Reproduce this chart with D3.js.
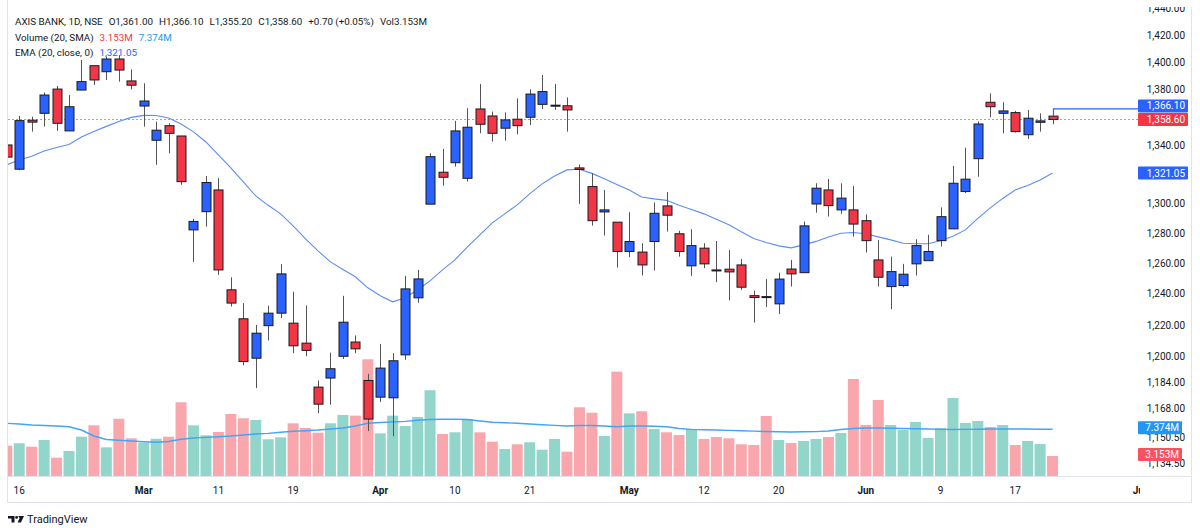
<!DOCTYPE html>
<html>
<head>
<meta charset="utf-8">
<script src="https://cdn.jsdelivr.net/npm/d3@7"></script>
<style>
  body { margin: 0; background: #fff; }
  svg { display: block; font-family: Roboto, "Noto Sans", sans-serif; }
</style>
</head>
<body>
<svg id="chart" width="1200" height="528"></svg>
<script>
// Bars run from index -1 (partly hidden at left edge) to 83 (last bar)
const firstIndex = -1;

const open = [1340.6, 1323.7, 1358.1, 1363.0, 1380.4, 1350.5, 1379.7, 1397.4, 1393.0, 1402.3,
  1386.3, 1368.2, 1343.9, 1354.2, 1346.9, 1282.3, 1294.6, 1309.4, 1242.7, 1224.0,
  1199.0, 1219.6, 1227.6, 1221.2, 1208.5, 1181.0, 1186.6, 1200.2, 1209.2, 1185.1,
  1174.8, 1174.4, 1201.1, 1237.5, 1299.7, 1321.6, 1328.2, 1317.4, 1366.1, 1361.1,
  1352.4, 1358.8, 1360.2, 1369.4, 1368.7, 1368.4, 1324.6, 1311.7, 1294.4, 1287.5,
  1267.9, 1267.5, 1274.5, 1298.5, 1279.7, 1258.4, 1270.1, 1255.7, 1256.2, 1259.0,
  1238.9, 1238.3, 1233.6, 1256.3, 1253.9, 1299.8, 1309.4, 1295.8, 1295.8, 1288.5,
  1262.3, 1244.8, 1245.5, 1259.7, 1261.8, 1275.1, 1283.0, 1308.3, 1331.0, 1370.9,
  1363.0, 1363.5, 1347.8, 1356.6, 1361.0];

const high = [1342.0, 1361.1, 1360.6, 1378.0, 1382.6, 1376.1, 1401.6, 1397.6, 1404.0, 1405.2,
  1394.7, 1384.6, 1357.1, 1355.9, 1347.0, 1289.7, 1319.0, 1317.5, 1250.9, 1234.1,
  1220.1, 1232.4, 1259.5, 1241.5, 1232.6, 1185.1, 1202.5, 1238.8, 1213.4, 1189.2,
  1208.0, 1202.2, 1251.8, 1255.7, 1334.8, 1337.8, 1357.6, 1366.6, 1384.1, 1364.2,
  1363.7, 1373.7, 1380.2, 1390.6, 1384.1, 1374.4, 1327.0, 1320.9, 1309.4, 1287.5,
  1294.2, 1273.4, 1300.8, 1307.9, 1281.7, 1282.8, 1273.4, 1274.9, 1269.0, 1262.9,
  1242.2, 1249.7, 1253.9, 1262.3, 1287.9, 1314.0, 1316.9, 1314.0, 1312.2, 1292.8,
  1275.6, 1264.5, 1259.7, 1276.1, 1279.0, 1297.5, 1326.0, 1338.7, 1357.1, 1377.3,
  1370.9, 1364.7, 1365.4, 1363.0, 1366.1];

const low = [1329.5, 1323.0, 1350.0, 1353.5, 1350.5, 1350.5, 1379.5, 1383.4, 1387.0, 1385.8,
  1380.2, 1353.5, 1326.7, 1334.8, 1312.9, 1261.0, 1284.5, 1252.5, 1231.9, 1194.5,
  1180.4, 1210.2, 1224.4, 1202.2, 1200.2, 1165.0, 1170.1, 1198.5, 1202.2, 1154.1,
  1171.9, 1151.0, 1198.0, 1234.3, 1299.7, 1312.4, 1325.5, 1315.1, 1348.8, 1342.9,
  1343.6, 1348.1, 1354.7, 1366.0, 1365.4, 1350.0, 1299.9, 1285.2, 1278.5, 1257.3,
  1264.1, 1252.0, 1255.3, 1281.2, 1264.5, 1251.8, 1256.9, 1247.7, 1235.8, 1242.7,
  1221.6, 1231.5, 1227.1, 1244.8, 1253.9, 1293.9, 1291.3, 1293.1, 1277.8, 1267.2,
  1244.8, 1230.2, 1244.4, 1252.0, 1261.8, 1271.2, 1283.0, 1307.2, 1318.5, 1360.2,
  1348.8, 1349.3, 1344.8, 1350.0, 1355.2];

const close = [1332.1, 1357.8, 1356.7, 1376.1, 1355.9, 1367.7, 1385.8, 1387.0, 1402.3, 1394.2,
  1383.2, 1371.8, 1351.0, 1348.8, 1315.1, 1288.0, 1314.5, 1255.7, 1234.1, 1196.9,
  1214.8, 1227.6, 1253.1, 1206.8, 1203.9, 1170.5, 1192.4, 1221.8, 1204.9, 1161.4,
  1192.8, 1197.4, 1243.3, 1249.8, 1332.4, 1318.1, 1350.5, 1353.1, 1355.2, 1348.8,
  1358.3, 1354.2, 1376.8, 1378.6, 1368.8, 1365.4, 1323.5, 1288.5, 1295.8, 1267.9,
  1274.5, 1259.0, 1293.5, 1292.2, 1267.9, 1271.8, 1259.7, 1255.6, 1254.4, 1244.4,
  1237.7, 1238.2, 1249.7, 1253.1, 1285.0, 1310.6, 1298.7, 1303.8, 1286.2, 1275.1,
  1250.9, 1254.6, 1252.9, 1271.8, 1267.9, 1291.2, 1314.0, 1316.8, 1355.4, 1367.7,
  1364.7, 1350.0, 1359.5, 1357.6, 1358.6];

// volume in millions
const volume = [4.77, 5.15, 4.61, 5.67, 2.88, 3.94, 6.19, 7.98, 4.52, 9.02,
  5.94, 5.24, 5.87, 6.19, 11.61, 7.98, 6.41, 6.93, 9.76, 9.09,
  8.82, 5.78, 6.09, 8.30, 7.56, 6.82, 8.30, 9.61, 9.50, 18.38,
  6.72, 9.50, 7.87, 9.29, 13.50, 6.61, 6.88, 8.98, 6.88, 5.40,
  4.25, 4.99, 5.31, 4.14, 5.83, 3.83, 10.82, 9.97, 6.30, 16.43,
  9.87, 10.19, 7.40, 6.88, 6.46, 7.40, 5.83, 6.14, 5.94, 4.99,
  4.88, 9.45, 5.67, 5.20, 5.51, 5.83, 6.14, 6.77, 15.28, 8.03,
  11.97, 8.03, 7.24, 8.50, 5.98, 7.56, 12.28, 8.35, 8.66, 7.72,
  8.03, 4.88, 5.51, 5.04, 3.153];

const volumeSma = [8.29, 8.19, 8.03, 7.95, 7.87, 7.76, 7.24, 6.30, 5.75, 5.62,
  5.51, 5.40, 5.31, 5.43, 5.78, 5.98, 6.09, 6.19, 6.30, 6.46,
  6.61, 6.72, 6.88, 7.04, 7.13, 7.24, 7.40, 7.56, 7.87, 8.30,
  8.43, 8.50, 8.61, 8.77, 8.90, 8.93, 8.93, 8.90, 8.66, 8.46,
  8.38, 8.30, 8.19, 8.08, 7.98, 7.87, 7.95, 7.95, 7.87, 7.76,
  7.87, 7.87, 7.83, 7.76, 7.48, 7.35, 7.29, 7.24, 7.18, 7.13,
  7.06, 7.01, 6.96, 6.93, 6.96, 6.99, 7.09, 7.32, 7.48, 7.56,
  7.56, 7.51, 7.48, 7.43, 7.40, 7.35, 7.32, 7.34, 7.37, 7.40,
  7.40, 7.40, 7.39, 7.37, 7.374];

const ema = [1326.7, 1330.1, 1332.7, 1336.4, 1338.8, 1340.9, 1346.2, 1350.1, 1353.7, 1357.2,
  1360.1, 1361.5, 1361.4, 1359.7, 1355.4, 1349.8, 1342.7, 1333.6, 1324.6, 1314.9,
  1305.3, 1298.9, 1293.1, 1285.0, 1276.3, 1268.3, 1261.0, 1256.0, 1251.2, 1244.0,
  1238.8, 1234.9, 1237.5, 1242.7, 1248.5, 1255.7, 1262.3, 1271.0, 1279.0, 1287.0,
  1293.1, 1299.2, 1306.7, 1313.6, 1319.0, 1323.2, 1323.7, 1320.8, 1317.1, 1313.2,
  1309.4, 1304.6, 1303.3, 1302.3, 1298.9, 1296.1, 1293.1, 1289.4, 1285.7, 1281.0,
  1276.6, 1273.9, 1271.6, 1270.3, 1272.3, 1274.6, 1277.6, 1280.1, 1280.6, 1279.7,
  1277.6, 1275.6, 1273.4, 1273.0, 1273.0, 1275.0, 1278.0, 1282.3, 1290.0, 1297.2,
  1303.6, 1309.4, 1312.5, 1316.3, 1321.05];

const priceTicks = [1440, 1420, 1400, 1380, 1340, 1300, 1280, 1260, 1240, 1220, 1200, 1184, 1168, 1150.5, 1134.5];

const timeTicks = [
  { i: 0, label: '16' }, { i: 10, label: 'Mar', month: true }, { i: 16, label: '11' },
  { i: 22, label: '19' }, { i: 29, label: 'Apr', month: true }, { i: 35, label: '10' },
  { i: 41, label: '21' }, { i: 49, label: 'May', month: true }, { i: 55, label: '12' },
  { i: 61, label: '20' }, { i: 68, label: 'Jun', month: true }, { i: 74, label: '9' },
  { i: 80, label: '17' }, { i: 90, label: 'Jul', month: true }
];

const lastHigh = 1366.1;

const bars = open.map((o, k) => ({
  i: k + firstIndex, o, h: high[k], l: low[k], c: close[k],
  v: volume[k], vs: volumeSma[k], ema: ema[k]
}));
const last = bars[bars.length - 1];

// layout
const paneL = 8, paneR = 1138, paneT = 7, paneB = 476.5;
const axisR = 1191;

const svg = d3.select('#chart');
const fmt = d3.format(',.2f');

const x = d3.scaleLinear().domain([0, 83]).range([19.2, 1052.55]);
const y = d3.scaleLog().domain([1127.0, 1441.0]).range([paneB, paneT]);
const yVol = d3.scaleLinear().domain([0, 20]).range([476, 476 - 20 * 6.35]);

const upColor = '#2962ff', downColor = '#f23645';

svg.append('defs').append('clipPath').attr('id', 'pane')
  .append('rect').attr('x', paneL).attr('y', paneT)
  .attr('width', paneR - paneL).attr('height', paneB - paneT);
svg.select('defs').append('clipPath').attr('id', 'timeclip')
  .append('rect').attr('x', paneL).attr('y', paneB)
  .attr('width', paneR + 2 - paneL).attr('height', 26);

const pane = svg.append('g').attr('clip-path', 'url(#pane)');

// volume bars
pane.append('g').selectAll('rect').data(bars).join('rect')
  .attr('x', d => x(d.i) - 5.5)
  .attr('width', 11)
  .attr('y', d => yVol(d.v))
  .attr('height', d => yVol(0) - yVol(d.v))
  .attr('fill', d => d.c >= d.o ? '#92d5ca' : '#f9a7ad');

// volume SMA
pane.append('path').datum(bars)
  .attr('fill', 'none').attr('stroke', '#42a5f5').attr('stroke-width', 1.4)
  .attr('d', d3.line().x(d => x(d.i)).y(d => yVol(d.vs)));

// close price dotted line
const closeLineY = Math.round(y(last.c)) + 0.5;
pane.append('path')
  .attr('d', `M${paneL},${closeLineY}H${paneR}`)
  .attr('fill', 'none')
  .style('stroke', '#f7808a')
  .style('stroke-width', 1)
  .style('stroke-dasharray', '2,2');

// EMA
pane.append('path').datum(bars)
  .attr('fill', 'none').attr('stroke', '#5b8cfa').attr('stroke-width', 1.1)
  .attr('d', d3.line().x(d => x(d.i)).y(d => y(d.ema)));

// candles
const candles = pane.append('g').selectAll('g').data(bars).join('g');
candles.append('line')
  .attr('x1', d => Math.round(x(d.i)) + 0.5).attr('x2', d => Math.round(x(d.i)) + 0.5)
  .attr('y1', d => y(d.h)).attr('y2', d => y(d.l))
  .attr('stroke', '#555').attr('stroke-width', 1);
candles.append('rect')
  .attr('x', d => Math.round(x(d.i)) - 4)
  .attr('width', 9)
  .attr('y', d => y(Math.max(d.o, d.c)))
  .attr('height', d => Math.max(1, y(Math.min(d.o, d.c)) - y(Math.max(d.o, d.c))))
  .attr('fill', d => d.c >= d.o ? upColor : downColor)
  .attr('stroke', '#1b1b1f').attr('stroke-width', 1);

// last high line
pane.append('path')
  .attr('fill', 'none').attr('stroke', '#2962ff').attr('stroke-width', 1.2)
  .attr('d', `M${Math.round(x(last.i)) + 0.5},${y(last.o)}V${y(lastHigh)}H${paneR}`);

// frame
const frame = svg.append('g').attr('stroke', '#e0e3eb').attr('fill', 'none');
frame.append('line').attr('x1', paneL - 0.5).attr('x2', paneL - 0.5).attr('y1', 0).attr('y2', 502.5);
frame.append('line').attr('x1', axisR + 0.5).attr('x2', axisR + 0.5).attr('y1', 0).attr('y2', 502.5);
frame.append('line').attr('x1', paneL - 0.5).attr('x2', axisR + 0.5).attr('y1', 502.5).attr('y2', 502.5);
frame.append('line').attr('x1', paneL - 0.5).attr('x2', axisR + 0.5).attr('y1', paneB).attr('y2', paneB);

// price scale labels
const axisText = svg.append('g');
axisText.selectAll('text').data(priceTicks).join('text')
  .attr('x', 1185).attr('y', d => y(d))
  .attr('text-anchor', 'end').attr('dominant-baseline', 'central')
  .attr('font-size', 10).attr('fill', '#131722')
  .text(d => fmt(d));
svg.append('rect').attr('x', paneL).attr('y', 0).attr('width', axisR - paneL + 1).attr('height', paneT).attr('fill', '#fff');

function valueBox(cy, w, bg, label) {
  const g = svg.append('g');
  g.append('rect').attr('x', paneR).attr('y', cy - 6.5).attr('width', w).attr('height', 13)
    .attr('rx', 1).attr('fill', bg);
  g.append('text').attr('x', paneR + w - 3).attr('y', cy)
    .attr('text-anchor', 'end').attr('dominant-baseline', 'central')
    .attr('font-size', 10).attr('fill', '#fff').text(label);
}
const closeY = y(last.c);
valueBox(Math.min(y(lastHigh), closeY - 13.5), 50, '#2962ff', fmt(lastHigh));
valueBox(closeY, 50, '#f23645', fmt(last.c));
valueBox(y(last.ema), 50, '#2962ff', fmt(last.ema));
valueBox(yVol(last.vs) - 1.5, 44, '#2196f3', last.vs.toFixed(3) + 'M');
valueBox(yVol(last.v) - 1.5, 44, '#f7525f', last.v.toFixed(3) + 'M');

// time axis
svg.append('g').attr('clip-path', 'url(#timeclip)')
  .selectAll('text').data(timeTicks).join('text')
  .attr('x', d => x(d.i)).attr('y', 490)
  .attr('text-anchor', 'middle').attr('dominant-baseline', 'central')
  .attr('font-size', 10).attr('fill', '#131722')
  .attr('font-weight', d => d.month ? 'bold' : 'normal')
  .text(d => d.label);

// legend
const legend = svg.append('g').attr('font-size', 9.8).attr('fill', '#131722');
const l1 = legend.append('text').attr('x', 15).attr('y', 21).attr('dominant-baseline', 'central');
l1.append('tspan').text('AXIS BANK, 1D, NSE');
[['O', fmt(last.o)], ['H', fmt(last.h)], ['L', fmt(last.l)], ['C', fmt(last.c)]].forEach(([k, v]) => {
  l1.append('tspan').attr('dx', 6).text(k + v);
});
l1.append('tspan').attr('dx', 6).text('+0.70 (+0.05%)');
l1.append('tspan').attr('dx', 6).text('Vol' + last.v.toFixed(3) + 'M');

const l2 = legend.append('text').attr('x', 15).attr('y', 36.5).attr('dominant-baseline', 'central');
l2.append('tspan').text('Volume (20, SMA)');
l2.append('tspan').attr('dx', 6).attr('fill', '#f23645').text(last.v.toFixed(3) + 'M');
l2.append('tspan').attr('dx', 6).attr('fill', '#2196f3').text(last.vs.toFixed(3) + 'M');

const l3 = legend.append('text').attr('x', 15).attr('y', 51.5).attr('dominant-baseline', 'central');
l3.append('tspan').text('EMA (20, close, 0)');
l3.append('tspan').attr('dx', 6).attr('fill', '#2962ff').text(fmt(last.ema));

// TradingView logo
const logo = svg.append('g').attr('fill', '#131722');
logo.append('path').attr('d', 'M8,516H14.5V522.5H11.5V518.5H8Z');
logo.append('circle').attr('cx', 16.6).attr('cy', 517.4).attr('r', 1.4);
logo.append('path').attr('d', 'M18.3,516H24L20.9,522.5H17.6L19.6,518.2Z');
svg.append('text').attr('x', 27).attr('y', 519.5).attr('dominant-baseline', 'central')
  .attr('font-size', 11).attr('fill', '#131722').text('TradingView');
</script>
</body>
</html>
